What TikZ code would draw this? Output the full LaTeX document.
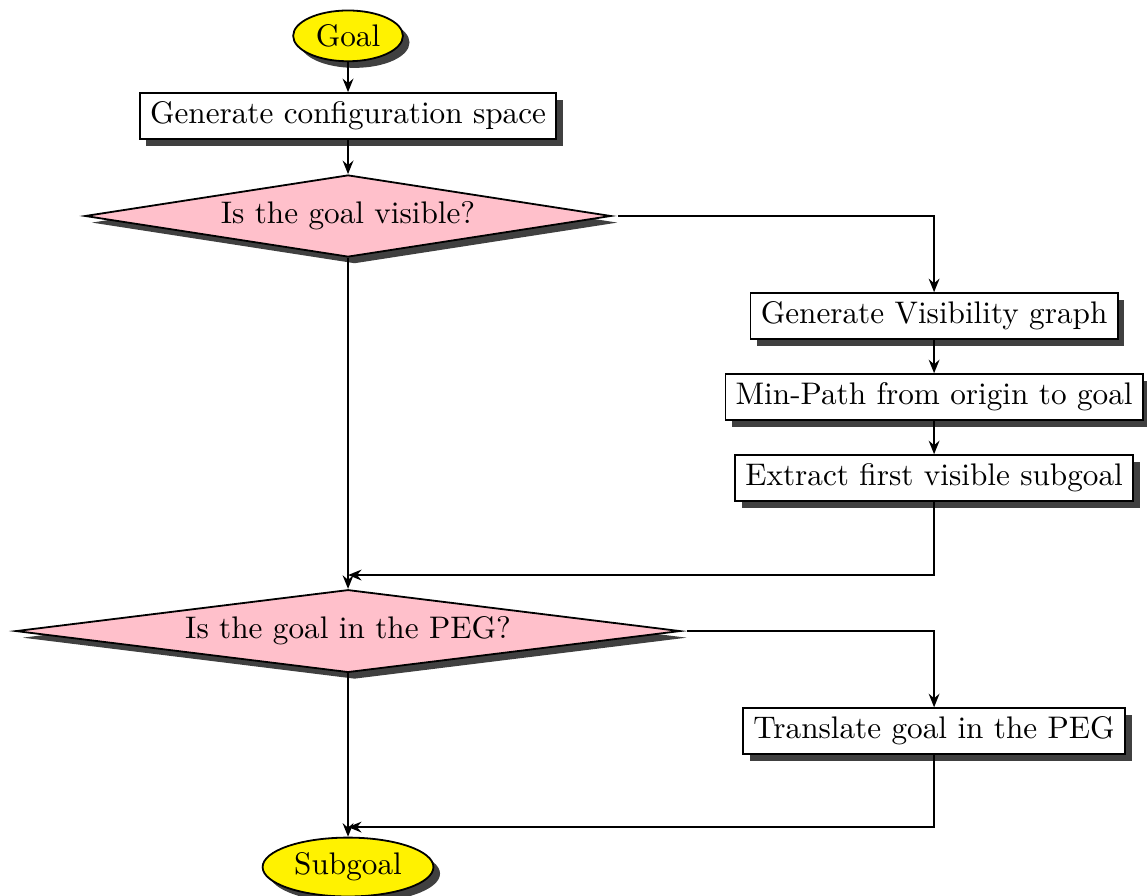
\documentclass[tikz,border=0pt]{standalone}
\usepackage{tikz}
\usetikzlibrary{arrows.meta}
\usetikzlibrary{shapes.geometric}
\usetikzlibrary{shadows}
\definecolor{decisionpink}{RGB}{255,192,203}

\begin{document}
\begin{tikzpicture}[
    semithick,
    >={Stealth[length=4.5pt, width=3.6pt, inset=1.5pt]},
    every node/.style={font=\fontsize{10.4pt}{12.5pt}\selectfont},
    shade/.style={drop shadow={fill=black!75, opacity=1, shadow xshift=2.2pt, shadow yshift=-2.2pt}},
    terminal/.style={ellipse, draw, fill=yellow, inner sep=2.2pt, shade},
    process/.style={rectangle, draw, fill=white, inner xsep=3.4pt, inner ysep=2.9pt, shade},
    decision/.style={diamond, draw, fill=decisionpink, aspect=6, inner sep=0pt, minimum height=0.96cm, shade},
    ]
    \useasboundingbox (0,0) rectangle (13.43,-10.48);
    % left column
    \node[terminal] (goal) at (4.075,-0.42) {Goal};
    \node[process] (cspace) at (4.075,-1.358) {Generate configuration space};
    \node[decision, minimum width=6.16cm] (visible) at (4.075,-2.529) {Is the goal visible?};
    \node[decision, minimum width=7.78cm] (inpeg) at (4.075,-7.389) {Is the goal in the PEG?};
    \node[terminal] (subgoal) at (4.075,-10.152) {Subgoal};
    % right column
    \node[process] (vgraph) at (10.937,-3.70) {Generate Visibility graph};
    \node[process] (minpath) at (10.937,-4.649) {Min-Path from origin to goal};
    \node[process] (extract) at (10.937,-5.597) {Extract first visible subgoal};
    \node[process] (translate) at (10.937,-8.56) {Translate goal in the PEG};
    % join points
    \coordinate (join1) at (4.075,-6.733);
    \coordinate (join2) at (4.075,-9.684);

    \draw[->] (goal) -- (cspace);
    \draw[->] (cspace) -- (visible);
    \draw[->] ([xshift=2pt]visible.east) -| (vgraph.north);
    \foreach \a/\b in {vgraph/minpath, minpath/extract}
        \draw[->] (\a) -- (\b);
    \draw[->] (extract.south) |- (join1);
    \draw[->] (visible.south) -- (inpeg.north);
    \draw[->] ([xshift=2pt]inpeg.east) -| (translate.north);
    \draw[->] (translate.south) |- (join2);
    \draw[->] (inpeg.south) -- (subgoal.north);
\end{tikzpicture}
\end{document}
